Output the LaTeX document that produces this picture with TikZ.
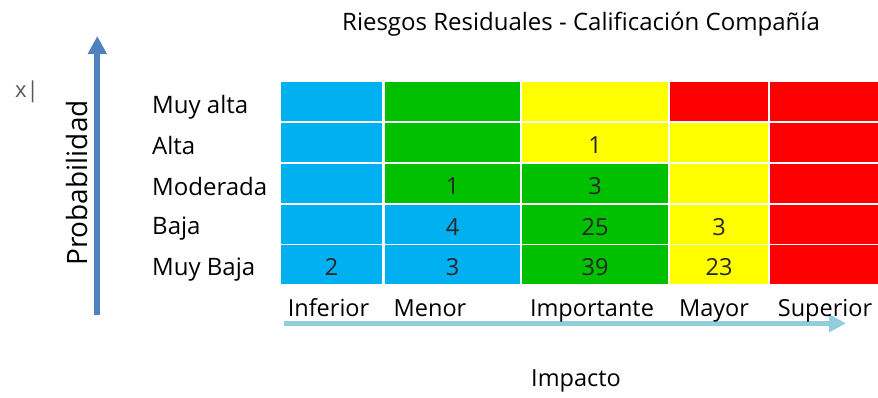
\documentclass[tikz,border=0pt]{standalone}
\usepackage{fontspec}
\setmainfont{Open Sans}
\usetikzlibrary{arrows.meta}
\usetikzlibrary{positioning}
\definecolor{riskblue}{HTML}{00B0F0}
\definecolor{riskgreen}{HTML}{00C000}
\definecolor{riskyellow}{HTML}{FFFF00}
\definecolor{riskred}{HTML}{FF0000}
\definecolor{probaxis}{HTML}{4F81BD}
\definecolor{impaxis}{HTML}{92CDDC}
\definecolor{numgray}{HTML}{262626}
\tikzset{
    cell/.style={
           rectangle,
           inner sep=0pt,
           minimum height=39pt,
           text height=22pt,
           text depth=0pt,
           text=numgray,
           font=\fontsize{23.5}{23.5}\selectfont,
           },
    level/.style={
           anchor=base west,
           inner sep=0pt,
           font=\fontsize{24}{24}\selectfont,
           },
    impact/.style={
           anchor=base,
           inner sep=0pt,
           font=\fontsize{23.5}{23.5}\selectfont,
           },
}

\begin{document}
\begin{tikzpicture}[x=1pt,y=-1pt]

 \useasboundingbox (0,0) rectangle (878,397);

 % Title
 \node[impact,font=\fontsize{24}{24}\selectfont] (Title) at (581,30.7)
 {Riesgos Residuales - Calificación Compañía};

 % stray cursor text
 \node[anchor=base west,inner sep=0pt,text=black!65,
  font=\fontsize{22}{22}\selectfont] (Cursor) at (15,97) {x|};

 % Probability axis
 \coordinate (ProbBottom) at (97.3,315);
 \coordinate (ProbTop) at (97.3,36);
 \draw[probaxis,line width=6pt,-{Triangle[width=18pt,length=18pt]}]
  (ProbBottom) -- (ProbTop);
 \node[impact,rotate=90,font=\fontsize{28}{28}\selectfont] (Probabilidad)
  at (87.3,183) {Probabilidad};

 % Impact axis
 \coordinate (ImpStart) at (284,323.3);
 \coordinate (ImpEnd) at (846,323.3);
 \draw[impaxis,line width=5pt,-{Triangle[width=17pt,length=17pt]}]
  (ImpStart) -- (ImpEnd);
 \node[impact] (Impacto) at (576,386) {Impacto};

 % Probability levels
 \node[level] (Muy alta) at (152,113.3) {Muy alta};
 \node[level] (Alta) at (152,154) {Alta};
 \node[level] (Moderada) at (152,195) {Moderada};
 \node[level] (Baja) at (152,234.5) {Baja};
 \node[level] (Muy Baja) at (152,275) {Muy Baja};

 % Impact levels
 \node[impact] (Inferior) at (328.5,316) {Inferior};
 \node[impact] (Menor) at (430,316) {Menor};
 \node[impact] (Importante) at (592,316) {Importante};
 \node[impact] (Mayor) at (714,316) {Mayor};
 \node[impact] (Superior) at (825,316) {Superior};

 % Row Muy alta
 \node[cell,fill=riskblue,minimum width=101pt] (r1c1) at (331.5,101.5) {};
 \node[cell,fill=riskgreen,minimum width=135pt] (r1c2) at (452.5,101.5) {};
 \node[cell,fill=riskyellow,minimum width=146pt] (r1c3) at (595,101.5) {};
 \node[cell,fill=riskred,minimum width=98pt] (r1c4) at (719,101.5) {};
 \node[cell,fill=riskred,minimum width=108pt] (r1c5) at (824,101.5) {};

 % Row Alta
 \node[cell,fill=riskblue,minimum width=101pt] (r2c1) at (331.5,142.5) {};
 \node[cell,fill=riskgreen,minimum width=135pt] (r2c2) at (452.5,142.5) {};
 \node[cell,fill=riskyellow,minimum width=146pt] (r2c3) at (595,142.5) {1};
 \node[cell,fill=riskyellow,minimum width=98pt] (r2c4) at (719,142.5) {};
 \node[cell,fill=riskred,minimum width=108pt] (r2c5) at (824,142.5) {};

 % Row Moderada
 \node[cell,fill=riskblue,minimum width=101pt] (r3c1) at (331.5,183.5) {};
 \node[cell,fill=riskgreen,minimum width=135pt] (r3c2) at (452.5,183.5) {1};
 \node[cell,fill=riskgreen,minimum width=146pt] (r3c3) at (595,183.5) {3};
 \node[cell,fill=riskyellow,minimum width=98pt] (r3c4) at (719,183.5) {};
 \node[cell,fill=riskred,minimum width=108pt] (r3c5) at (824,183.5) {};

 % Row Baja
 \node[cell,fill=riskblue,minimum width=101pt] (r4c1) at (331.5,224) {};
 \node[cell,fill=riskblue,minimum width=135pt] (r4c2) at (452.5,224) {4};
 \node[cell,fill=riskgreen,minimum width=146pt] (r4c3) at (595,224) {25};
 \node[cell,fill=riskyellow,minimum width=98pt] (r4c4) at (719,224) {3};
 \node[cell,fill=riskred,minimum width=108pt] (r4c5) at (824,224) {};

 % Row Muy Baja
 \node[cell,fill=riskblue,minimum width=101pt] (r5c1) at (331.5,264.5) {2};
 \node[cell,fill=riskblue,minimum width=135pt] (r5c2) at (452.5,264.5) {3};
 \node[cell,fill=riskgreen,minimum width=146pt] (r5c3) at (595,264.5) {39};
 \node[cell,fill=riskyellow,minimum width=98pt] (r5c4) at (719,264.5) {23};
 \node[cell,fill=riskred,minimum width=108pt] (r5c5) at (824,264.5) {};

\end{tikzpicture}
\end{document}
